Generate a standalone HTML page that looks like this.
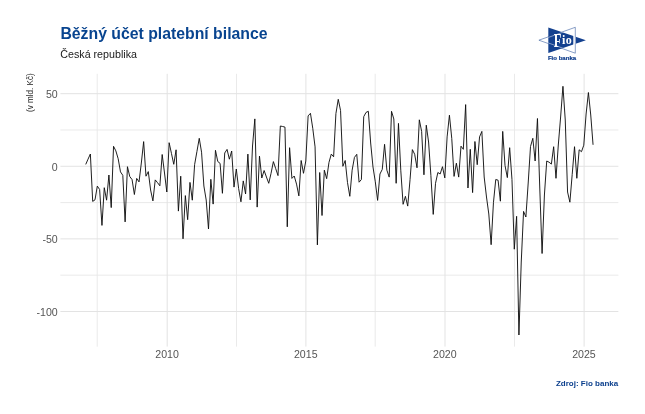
<!DOCTYPE html>
<html lang="cs"><head><meta charset="utf-8"><title>Běžný účet platební bilance</title>
<style>
html,body{margin:0;padding:0;background:#fff;}
body{width:645px;height:414px;overflow:hidden;font-family:"Liberation Sans",sans-serif;}
svg{display:block;will-change:transform;filter:blur(0.3px);}
text{font-family:"Liberation Sans",sans-serif;}
.ax{font-size:10.6px;fill:#555;}
.title{font-size:15.8px;font-weight:bold;fill:#08448f;}
.sub{font-size:10.7px;fill:#1a1a1a;}
.cap{font-size:8.0px;font-weight:bold;fill:#0b3f8d;}
.yl{font-size:8.15px;fill:#1a1a1a;}
.fb{font-size:6.05px;font-weight:bold;fill:#0b3a8a;}
.fio{font-family:"Liberation Serif",serif;font-weight:bold;font-size:12px;fill:#fff;}
</style></head><body>
<svg width="645" height="414" viewBox="0 0 645 414">
<rect width="645" height="414" fill="#fff"/>
<g id="grid">
<line x1="60.4" x2="618.4" y1="129.98" y2="129.98" stroke="#e6e6e6" stroke-width="0.85"/>
<line x1="60.4" x2="618.4" y1="202.58" y2="202.58" stroke="#e6e6e6" stroke-width="0.85"/>
<line x1="60.4" x2="618.4" y1="275.18" y2="275.18" stroke="#e6e6e6" stroke-width="0.85"/>
<line y1="73.8" y2="346.6" x1="97.25" x2="97.25" stroke="#e6e6e6" stroke-width="0.85"/>
<line y1="73.8" y2="346.6" x1="236.50" x2="236.50" stroke="#e6e6e6" stroke-width="0.85"/>
<line y1="73.8" y2="346.6" x1="375.20" x2="375.20" stroke="#e6e6e6" stroke-width="0.85"/>
<line y1="73.8" y2="346.6" x1="514.50" x2="514.50" stroke="#e6e6e6" stroke-width="0.85"/>
<line x1="60.4" x2="618.4" y1="93.68" y2="93.68" stroke="#e3e3e3" stroke-width="1"/>
<line x1="60.4" x2="618.4" y1="166.28" y2="166.28" stroke="#e3e3e3" stroke-width="1"/>
<line x1="60.4" x2="618.4" y1="238.88" y2="238.88" stroke="#e3e3e3" stroke-width="1"/>
<line x1="60.4" x2="618.4" y1="311.48" y2="311.48" stroke="#e3e3e3" stroke-width="1"/>
<line y1="73.8" y2="346.6" x1="167.20" x2="167.20" stroke="#e3e3e3" stroke-width="1"/>
<line y1="73.8" y2="346.6" x1="305.90" x2="305.90" stroke="#e3e3e3" stroke-width="1"/>
<line y1="73.8" y2="346.6" x1="445.00" x2="445.00" stroke="#e3e3e3" stroke-width="1"/>
<line y1="73.8" y2="346.6" x1="584.10" x2="584.10" stroke="#e3e3e3" stroke-width="1"/>
</g>
<polyline fill="none" stroke="#0c0c0c" stroke-width="0.92" stroke-linejoin="round" stroke-linecap="butt" points="85.74,164.4 88.06,159.1 90.37,154.0 92.69,201.4 95.01,199.8 97.32,186.1 99.64,189.5 101.96,225.4 104.27,187.7 106.59,200.2 108.91,175.0 111.22,207.6 113.54,146.3 115.85,150.9 118.17,158.7 120.49,171.9 122.80,175.3 125.12,221.9 127.44,166.7 129.75,176.5 132.07,179.6 134.39,194.5 136.70,178.4 139.02,181.9 141.34,163.0 143.65,141.6 145.97,176.2 148.29,171.6 150.60,190.0 152.92,200.9 155.24,179.9 157.55,182.7 159.87,185.8 162.18,154.5 164.50,173.0 166.82,192.0 169.13,142.7 171.45,153.4 173.77,164.3 176.08,149.8 178.40,211.1 180.72,176.2 183.03,238.8 185.35,195.6 187.67,219.7 189.98,182.4 192.30,200.2 194.62,164.6 196.93,151.5 199.25,138.3 201.56,152.2 203.88,186.0 206.20,200.0 208.51,229.0 210.83,179.3 213.15,204.1 215.46,150.3 217.78,161.5 220.10,163.4 222.41,193.3 224.73,153.0 227.05,149.4 229.36,159.2 231.68,151.0 234.00,187.1 236.31,169.0 238.63,188.6 240.95,201.8 243.26,180.9 245.58,194.0 247.89,154.1 250.21,199.9 252.53,146.0 254.84,118.9 257.16,207.1 259.48,156.1 261.79,178.0 264.11,170.5 266.43,177.0 268.74,183.3 271.06,173.3 273.38,161.6 275.69,168.6 278.01,175.6 280.33,126.0 282.64,126.5 284.96,127.1 287.28,226.8 289.59,147.7 291.91,178.4 294.23,176.0 296.54,184.1 298.86,195.9 301.17,160.5 303.49,173.3 305.81,161.0 308.12,115.9 310.44,113.3 312.76,128.3 315.07,146.9 317.39,244.9 319.71,172.5 322.02,215.5 324.34,170.2 326.66,178.7 328.97,162.4 331.29,154.1 333.61,156.8 335.92,113.6 338.24,99.3 340.56,110.5 342.87,166.3 345.19,160.5 347.50,182.6 349.82,196.3 352.14,170.2 354.45,157.4 356.77,154.3 359.09,182.2 361.40,179.5 363.72,116.7 366.04,112.4 368.35,111.3 370.67,143.0 372.99,167.0 375.30,181.8 377.62,200.4 379.94,174.0 382.25,169.4 384.57,144.3 386.88,170.2 389.20,177.1 391.52,111.3 393.83,119.0 396.15,183.3 398.47,123.4 400.78,170.2 403.10,204.3 405.42,196.3 407.73,206.1 410.05,179.5 412.37,149.6 414.68,154.3 417.00,167.8 419.32,119.8 421.63,131.4 423.95,174.8 426.27,125.2 428.58,142.0 430.90,175.6 433.22,214.4 435.53,183.3 437.85,172.5 440.16,174.0 442.48,166.7 444.80,177.9 447.11,136.9 449.43,115.2 451.75,138.4 454.06,176.4 456.38,163.2 458.70,177.1 461.01,146.2 463.33,149.3 465.65,104.6 467.96,188.0 470.28,149.3 472.60,192.6 474.91,141.5 477.23,164.7 479.55,136.9 481.86,131.4 484.18,177.0 486.49,197.0 488.81,214.0 491.13,244.7 493.44,202.7 495.76,179.5 498.08,180.2 500.39,201.2 502.71,131.4 505.03,165.5 507.34,177.6 509.66,147.7 511.98,179.5 514.29,249.2 516.61,216.3 518.93,335.0 521.24,262.0 523.56,211.4 525.88,217.0 528.19,183.0 530.51,146.5 532.82,138.3 535.14,161.0 537.46,118.5 539.77,188.0 542.09,253.5 544.41,195.0 546.72,161.0 549.04,162.2 551.36,164.1 553.67,146.7 555.99,178.3 558.31,145.0 560.62,117.0 562.94,86.3 565.26,120.0 567.57,192.0 569.89,202.2 572.20,174.5 574.52,146.7 576.84,178.3 579.15,149.8 581.47,151.7 583.79,145.2 586.10,114.0 588.42,92.5 590.74,115.0 593.05,144.8"/>
<g id="ticks">
<text x="57.7" y="97.9" text-anchor="end" class="ax">50</text>
<text x="57.7" y="170.5" text-anchor="end" class="ax">0</text>
<text x="57.7" y="243.1" text-anchor="end" class="ax">-50</text>
<text x="57.7" y="315.7" text-anchor="end" class="ax">-100</text>
<text x="167.05" y="358.4" text-anchor="middle" class="ax">2010</text>
<text x="305.75" y="358.4" text-anchor="middle" class="ax">2015</text>
<text x="444.85" y="358.4" text-anchor="middle" class="ax">2020</text>
<text x="583.95" y="358.4" text-anchor="middle" class="ax">2025</text>
</g>
<text class="title" x="60.4" y="39.0">Běžný účet platební bilance</text>
<text class="sub" x="60.3" y="58.2">Česká republika</text>
<text class="yl" transform="translate(33.1,73.2) rotate(-90)" text-anchor="end">(v mld. Kč)</text>
<text class="cap" x="618.2" y="385.85" text-anchor="end">Zdroj: Fio banka</text>
<g id="logo">
<defs><clipPath id="bt"><polygon points="548.3,27.6 548.3,53 585.9,40.3"/></clipPath></defs>
<polygon points="548.3,27.6 548.3,53 585.9,40.3" fill="#14418f"/>
<rect x="573.3" y="26" width="2.6" height="29" fill="#fff"/>
<polygon points="538.9,40.2 575.3,27.3 575.3,53.2" fill="none" stroke="#14418f" stroke-width="0.5"/>
<g clip-path="url(#bt)"><path d="M575,27.9 L540.6,40.2 L575,52.5" fill="none" stroke="#fff" stroke-width="0.55" stroke-opacity="0.9"/></g>
<text class="fio" transform="translate(553.7,47.0) scale(1.05,1.58)">F</text>
<text class="fio" x="561.9" y="43.6" letter-spacing="0.5">io</text>
<text class="fb" x="547.9" y="59.9" stroke="#0b3a8a" stroke-width="0.18">Fio banka</text>
</g>
</svg>
</body></html>
